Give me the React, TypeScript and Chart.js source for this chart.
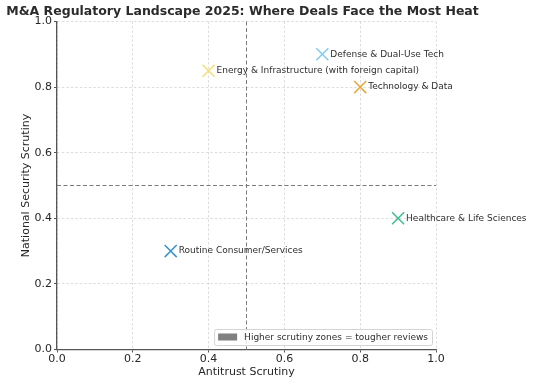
import React, { useEffect, useRef } from 'react';
import { Chart, registerables } from 'chart.js';

Chart.register(...registerables);

const TITLE = 'M&A Regulatory Landscape 2025: Where Deals Face the Most Heat';
const X_TITLE = 'Antitrust Scrutiny';
const Y_TITLE = 'National Security Scrutiny';
const LEGEND_TEXT = 'Higher scrutiny zones = tougher reviews';

const SECTORS = [
  'Technology & Data',
  'Healthcare & Life Sciences',
  'Defense & Dual-Use Tech',
  'Energy & Infrastructure (with foreign capital)',
  'Routine Consumer/Services',
];
const ANTITRUST = [0.8, 0.9, 0.7, 0.4, 0.3];
const NATSEC = [0.8, 0.4, 0.9, 0.85, 0.3];
const COLORS = ['#E9A83A', '#3DBE8E', '#7FCBF2', '#F4DF72', '#3A94C9'];
const THRESHOLD_X = 0.5;
const THRESHOLD_Y = 0.5;
const AXIS_MIN = 0;
const AXIS_MAX = 1;
const TICK_STEP = 0.2;

const FONT = "'DejaVu Sans', sans-serif";

const overlayPlugin = {
  id: 'overlay',
  beforeDatasetsDraw(chart: any) {
    const { ctx, chartArea, scales } = chart;
    const x = scales.x.getPixelForValue(THRESHOLD_X);
    const y = scales.y.getPixelForValue(THRESHOLD_Y);
    ctx.save();
    ctx.strokeStyle = '#7a7a7a';
    ctx.lineWidth = 1;
    ctx.setLineDash([4, 2.5]);
    ctx.beginPath();
    ctx.moveTo(x, chartArea.top);
    ctx.lineTo(x, chartArea.bottom);
    ctx.moveTo(chartArea.left, y);
    ctx.lineTo(chartArea.right, y);
    ctx.stroke();
    ctx.restore();
  },
  afterDatasetsDraw(chart: any) {
    const { ctx } = chart;
    const meta = chart.getDatasetMeta(0);
    ctx.save();
    ctx.font = `9px ${FONT}`;
    ctx.fillStyle = '#2e2e2e';
    ctx.textAlign = 'left';
    ctx.textBaseline = 'middle';
    meta.data.forEach((pt: any, i: number) => {
      ctx.fillText(SECTORS[i], pt.x + 8, pt.y);
    });
    ctx.restore();
  },
  afterDraw(chart: any) {
    const { ctx, chartArea } = chart;
    ctx.save();
    // title
    ctx.font = `bold 12.5px ${FONT}`;
    ctx.fillStyle = '#2b2b2b';
    ctx.textAlign = 'center';
    ctx.textBaseline = 'middle';
    ctx.fillText(TITLE, (chartArea.left + chartArea.right) / 2 - 4, 12);
    // legend
    ctx.font = `9px ${FONT}`;
    const tw = ctx.measureText(LEGEND_TEXT).width;
    const boxW = tw + 34;
    const boxH = 16;
    const bx = chartArea.right - 4 - boxW;
    const by = chartArea.bottom - 4.5 - boxH;
    ctx.fillStyle = 'rgba(255,255,255,0.8)';
    ctx.strokeStyle = '#d4d4d4';
    ctx.lineWidth = 1;
    ctx.beginPath();
    ctx.roundRect(bx + 0.5, by + 0.5, boxW, boxH, 2);
    ctx.fill();
    ctx.stroke();
    ctx.fillStyle = '#808080';
    ctx.fillRect(bx + 4, by + 4.5, 19, 7);
    ctx.fillStyle = '#2e2e2e';
    ctx.textAlign = 'left';
    ctx.textBaseline = 'middle';
    ctx.fillText(LEGEND_TEXT, bx + 30, by + boxH / 2 + 0.5);
    ctx.restore();
  },
};

const gridOpts: any = {
  color: 'rgba(0,0,0,0.17)',
  lineWidth: 0.8,
  tickColor: '#555555',
  tickLength: 3,
  tickWidth: 1,
  tickBorderDash: [],
};

const borderOpts: any = { display: true, color: '#555555', width: 1.3, dash: [2.5, 2] };

export default function App() {
  const canvasRef = useRef<HTMLCanvasElement | null>(null);

  useEffect(() => {
    if (!canvasRef.current) return;
    Chart.defaults.font.family = FONT;
    const chart = new Chart(canvasRef.current, {
      type: 'scatter',
      data: {
        datasets: [
          {
            label: 'Sectors',
            data: ANTITRUST.map((x, i) => ({ x, y: NATSEC[i] })),
            pointStyle: 'crossRot',
            pointRadius: 8.5,
            pointHoverRadius: 8.5,
            pointBorderWidth: 1.5,
            borderColor: COLORS,
            backgroundColor: COLORS,
          },
        ],
      },
      options: {
        responsive: false,
        animation: false,
        events: [],
        layout: { padding: { top: 21.5, right: 98, left: 0, bottom: 0 } },
        plugins: {
          legend: { display: false },
          tooltip: { enabled: false },
          title: { display: false },
        },
        scales: {
          x: {
            type: 'linear',
            min: AXIS_MIN,
            max: AXIS_MAX,
            afterFit: (s: any) => {
              s.height = 35.5;
            },
            ticks: {
              stepSize: TICK_STEP,
              color: '#262626',
              font: { size: 11 },
              padding: 0.5,
              maxRotation: 0,
              callback: (v: any) => Number(v).toFixed(1),
            },
            grid: gridOpts,
            border: borderOpts,
            title: {
              display: true,
              text: X_TITLE,
              color: '#262626',
              font: { size: 11 },
              padding: { top: 0, bottom: 6 },
            },
          },
          y: {
            type: 'linear',
            min: AXIS_MIN,
            max: AXIS_MAX,
            afterFit: (s: any) => {
              s.width = 57;
            },
            ticks: {
              stepSize: TICK_STEP,
              color: '#262626',
              font: { size: 11 },
              padding: 2,
              callback: (v: any) => Number(v).toFixed(1),
            },
            grid: gridOpts,
            border: borderOpts,
            title: {
              display: true,
              text: Y_TITLE,
              color: '#262626',
              font: { size: 11 },
              padding: { top: 19.5, bottom: 0 },
            },
          },
        },
      },
      plugins: [overlayPlugin],
    });
    return () => chart.destroy();
  }, []);

  return (
    <div style={{ position: 'fixed', left: 0, top: 0, width: 534, height: 385, background: '#fff' }}>
      <canvas ref={canvasRef} width={534} height={385} style={{ width: 534, height: 385, display: 'block' }} />
    </div>
  );
}
